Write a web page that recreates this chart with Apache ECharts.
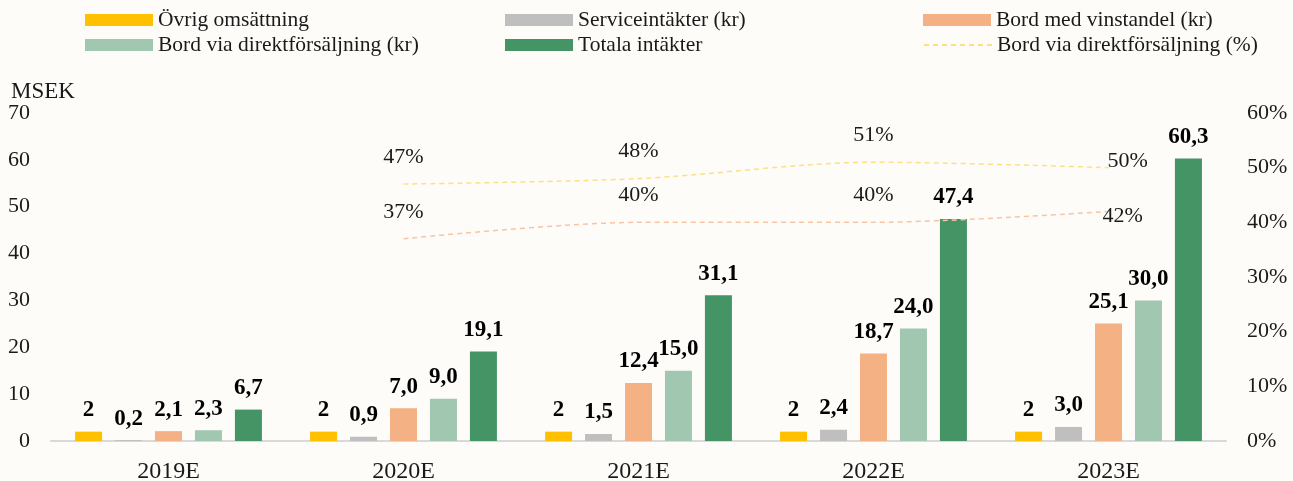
<!DOCTYPE html>
<html>
<head>
<meta charset="utf-8">
<script src="https://cdn.jsdelivr.net/npm/echarts@6/dist/echarts.min.js"></script>
<style>
html,body{margin:0;padding:0;background:#fdfcf9;}
#c{width:1293px;height:481px;}
</style>
</head>
<body>
<div id="c"></div>
<script>
var categories = ['2019E', '2020E', '2021E', '2022E', '2023E'];
var ovrig = [2, 2, 2, 2, 2];
var service = [0.2, 0.9, 1.5, 2.4, 3.0];
var vinstandel = [2.1, 7.0, 12.4, 18.7, 25.1];
var direkt = [2.3, 9.0, 15.0, 24.0, 30.0];
var totala = [6.7, 19.1, 31.1, 47.4, 60.3];
var direktPct = ['-', 47, 48, 51, 50];
var vinstPct = ['-', 37, 40, 40, 42];
var leftTicks = [0, 70, 10];
var rightTicks = [0, 60, 10];

var FONT = '"Liberation Serif", "Times New Roman", serif';
var chart = echarts.init(document.getElementById('c'), null, {renderer: 'canvas'});

function fmt(dec) {
  return function (p) { return dec === 0 ? String(p.value) : p.value.toFixed(dec).replace('.', ','); };
}
function barSeries(name, data, color, dec) {
  return {
    name: name, type: 'bar', data: data, barWidth: 27, barGap: '48%', barCategoryGap: '20%',
    itemStyle: {color: color},
    label: {show: true, position: 'top', distance: 10, formatter: fmt(dec),
      fontFamily: FONT, fontSize: 23, fontWeight: 'bold', color: '#000'}
  };
}
function pctLabels(arr, lastOffset) {
  return arr.map(function (v, i) {
    if (i === arr.length - 1) {
      return {value: v, label: {position: 'right', distance: 0, offset: lastOffset}};
    }
    return v;
  });
}
function lineSeries(name, data, color, lastOffset) {
  return {
    name: name, type: 'line', yAxisIndex: 1, smooth: 0.3, symbol: 'circle', symbolSize: 0.01, showSymbol: true,
    data: pctLabels(data, lastOffset),
    lineStyle: {color: color, width: 1.5, type: [5, 4]},
    itemStyle: {color: color},
    label: {show: true, position: 'top', distance: 16, formatter: '{c}%',
      fontFamily: FONT, fontSize: 22, color: '#1a1a1a'}
  };
}

var legendItems = [
  {name: 'Övrig omsättning', left: 85, top: 9},
  {name: 'Serviceintäkter (kr)', left: 505, top: 9},
  {name: 'Bord med vinstandel (kr)', left: 923, top: 9},
  {name: 'Bord via direktförsäljning (kr)', left: 85, top: 34},
  {name: 'Totala intäkter', left: 505, top: 34},
  {name: 'Bord via direktförsäljning (%)', left: 923, top: 34, line: true}
];

var option = {
  backgroundColor: '#fdfcf9',
  animation: false,
  textStyle: {fontFamily: FONT},
  title: {text: 'MSEK', left: 11, top: 80, padding: 0, textStyle: {fontFamily: FONT, fontSize: 23, fontWeight: 'normal', color: '#1a1a1a'}},
  legend: legendItems.map(function (it) {
    var lg = {
      data: [it.name], left: it.left, top: it.top, padding: 0, itemWidth: 68, itemHeight: 12,
      textStyle: {fontFamily: FONT, fontSize: 21.5, color: '#1a1a1a'}
    };
    if (it.line) {
      lg.itemStyle = {color: 'transparent', borderWidth: 0, opacity: 0};
    } else {
      lg.icon = 'rect';
    }
    return lg;
  }),
  grid: {left: 51, right: 67, top: 113, bottom: 40, containLabel: false, outerBoundsMode: 'none'},
  xAxis: {
    type: 'category', data: categories,
    axisLine: {lineStyle: {color: '#d9d9d9', width: 2}},
    axisTick: {show: false},
    axisLabel: {fontFamily: FONT, fontSize: 24, color: '#1a1a1a', margin: 19}
  },
  yAxis: [
    {type: 'value', min: leftTicks[0], max: leftTicks[1], interval: leftTicks[2],
      splitLine: {show: false}, axisLine: {show: false}, axisTick: {show: false},
      axisLabel: {fontFamily: FONT, fontSize: 22, color: '#1a1a1a', margin: 21, padding: [4, 0, 0, 0]}},
    {type: 'value', min: rightTicks[0], max: rightTicks[1], interval: rightTicks[2],
      splitLine: {show: false}, axisLine: {show: false}, axisTick: {show: false},
      axisLabel: {fontFamily: FONT, fontSize: 22, color: '#1a1a1a', margin: 21, padding: [4, 0, 0, 0], formatter: '{value}%'}}
  ],
  series: [
    barSeries('Övrig omsättning', ovrig, '#ffc000', 0),
    barSeries('Serviceintäkter (kr)', service, '#bfbfbf', 1),
    barSeries('Bord med vinstandel (kr)', vinstandel, '#f4b183', 1),
    barSeries('Bord via direktförsäljning (kr)', direkt, '#a2c7b0', 1),
    barSeries('Totala intäkter', totala, '#449466', 1),
    lineSeries('Bord via direktförsäljning (%)', direktPct, '#ffdf85', [-1, -6]),
    lineSeries('Bord med vinstandel (%)', vinstPct, '#f8c4a2', [-6, 5])
  ]
};
chart.setOption(option);
</script>
</body>
</html>
